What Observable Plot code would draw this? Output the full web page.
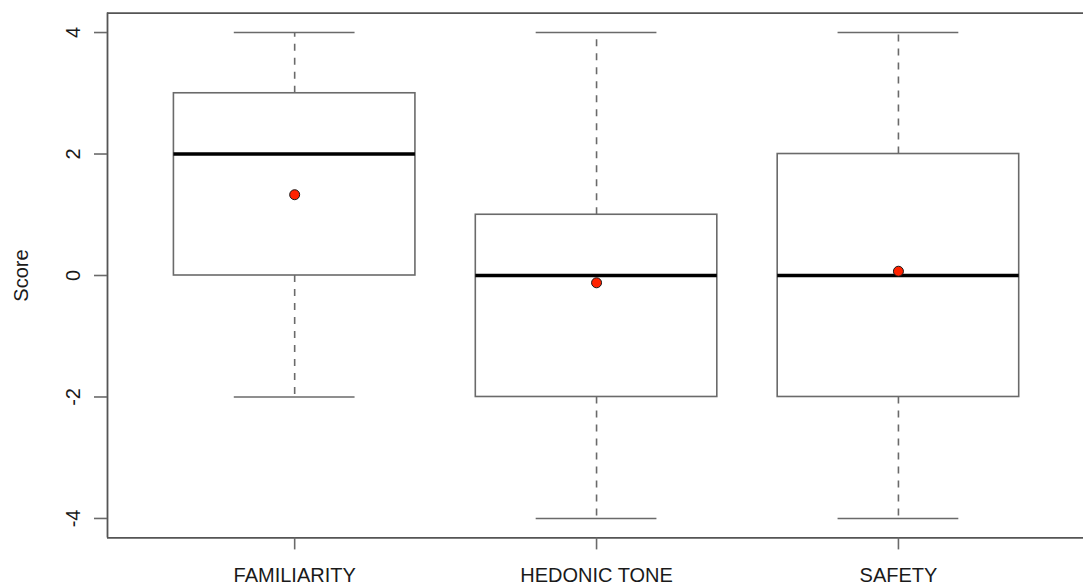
<!DOCTYPE html>
<html>
<head>
<meta charset="utf-8">
<script src="https://cdn.jsdelivr.net/npm/d3@7"></script>
<script src="https://cdn.jsdelivr.net/npm/@observablehq/plot@0.6"></script>
<style>
  html, body { margin: 0; padding: 0; background: #fff; }
</style>
</head>
<body>
<div id="chart"></div>
<script>
// ---- Data ----
const categories   = ["FAMILIARITY", "HEDONIC TONE", "SAFETY"];
const whiskerLow   = [-2, -4, -4];
const lowerQuart   = [0, -2, -2];
const medians      = [2, 0, 0];
const upperQuart   = [3, 1, 2];
const whiskerHigh  = [4, 4, 4];
const means        = [1.33, -0.12, 0.07];
const yTicks       = [-4, -2, 0, 2, 4];
const yLabel       = "Score";

const rows = categories.map((c, i) => ({
  pos: i + 1,
  category: c,
  low: whiskerLow[i],
  q1: lowerQuart[i],
  med: medians[i],
  q3: upperQuart[i],
  high: whiskerHigh[i],
  mean: means[i]
}));

const xDom = [0.38, 3.613];
const yDom = [-4.32, 4.32];
const lineCol = "#6a6a6a";

const chart = Plot.plot({
  width: 1083,
  height: 586,
  marginLeft: 107,
  marginRight: 0,
  marginTop: 12.6,
  marginBottom: 48.6,
  style: {
    fontFamily: "'Liberation Sans', Arial, Helvetica, sans-serif",
    fontSize: "20px",
    background: "#fff",
    color: "#1a1a1a"
  },
  x: { type: "linear", domain: xDom },
  y: { domain: yDom },
  marks: [
    // dashed whiskers
    Plot.ruleX(rows, { x: "pos", y1: "q3", y2: "high", stroke: lineCol, strokeWidth: 1.6, strokeDasharray: "7,7" }),
    Plot.ruleX(rows, { x: "pos", y1: "q1", y2: "low", stroke: lineCol, strokeWidth: 1.6, strokeDasharray: "7,7" }),
    // whisker caps
    Plot.ruleY(rows, { y: "high", x1: d => d.pos - 0.2, x2: d => d.pos + 0.2, stroke: lineCol, strokeWidth: 1.6 }),
    Plot.ruleY(rows, { y: "low", x1: d => d.pos - 0.2, x2: d => d.pos + 0.2, stroke: lineCol, strokeWidth: 1.6 }),
    // boxes
    Plot.rect(rows, { x1: d => d.pos - 0.4, x2: d => d.pos + 0.4, y1: "q1", y2: "q3", fill: "white", stroke: lineCol, strokeWidth: 1.6 }),
    // medians
    Plot.ruleY(rows, { y: "med", x1: d => d.pos - 0.4, x2: d => d.pos + 0.4, stroke: "#000", strokeWidth: 3.5 }),
    // means
    Plot.dot(rows, { x: "pos", y: "mean", r: 5, fill: "#ff2200", stroke: "#1a1a1a", strokeWidth: 1 }),
    // frame (left, top, bottom)
    Plot.ruleX([xDom[0]], { y1: yDom[0], y2: yDom[1], stroke: "#555", strokeWidth: 1.8 }),
    Plot.ruleY([yDom[1]], { stroke: "#555", strokeWidth: 1.8 }),
    Plot.ruleY([yDom[0]], { stroke: "#555", strokeWidth: 1.8 }),
    // axes
    Plot.axisX({
      ticks: [1, 2, 3],
      tickFormat: i => categories[i - 1],
      tickSize: 12,
      tickPadding: 18,
      stroke: lineCol,
      strokeWidth: 1.6,
      label: null
    }),
    Plot.axisY({
      ticks: yTicks,
      tickFormat: d => String(d),
      tickSize: 13,
      tickPadding: 21,
      tickRotate: -90,
      textAnchor: "middle",
      lineAnchor: "middle",
      stroke: lineCol,
      strokeWidth: 1.6,
      label: yLabel,
      labelAnchor: "center",
      labelOffset: 94,
      labelArrow: "none"
    })
  ]
});

document.getElementById("chart").appendChild(chart);
</script>
</body>
</html>
